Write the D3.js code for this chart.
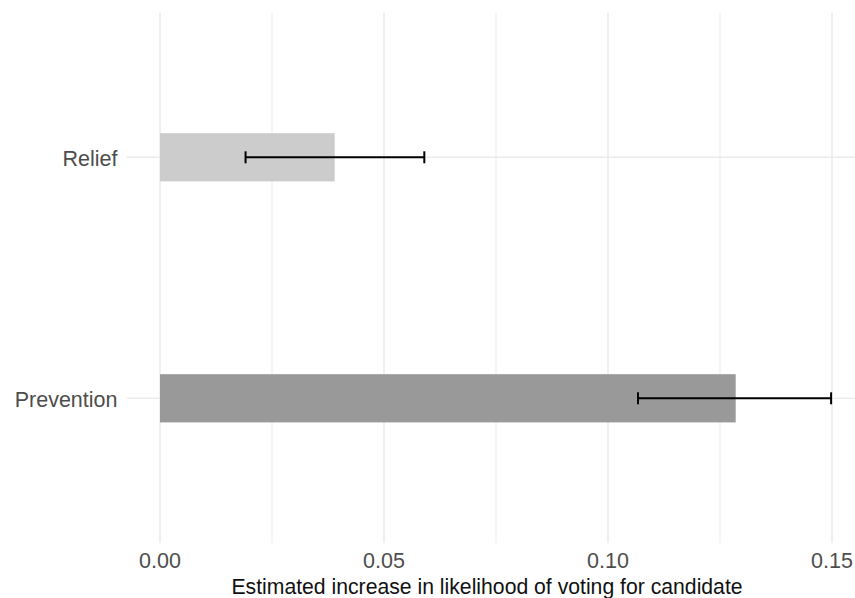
<!DOCTYPE html>
<html>
<head>
<meta charset="utf-8">
<script src="https://cdn.jsdelivr.net/npm/d3@7"></script>
<style>
  html, body { margin: 0; padding: 0; background: #fff; }
  svg { display: block; }
  text { font-family: "Liberation Sans", Arial, Helvetica, sans-serif; }
</style>
</head>
<body>
<svg id="chart" width="855" height="598"></svg>
<script>
// Treatment arms, estimates and 95% intervals
const categories = ["Relief", "Prevention"];
const estimates = [0.039, 0.1285];
const lowerCI = [0.0191, 0.1067];
const upperCI = [0.0590, 0.1498];
const barColors = ["#cccccc", "#999999"];
const majorTicks = [0, 0.05, 0.10, 0.15];
const minorTicks = [0.025, 0.075, 0.125];
const tickLabels = ["0.00", "0.05", "0.10", "0.15"];
const xTitle = "Estimated increase in likelihood of voting for candidate";

const W = 855, H = 598;
const svg = d3.select("#chart");

const x = d3.scaleLinear().domain([0, 0.15]).range([160, 832]);
const panelLeft = x(-0.0074), panelRight = W;
const panelTop = 13, panelBottom = 543;

const y = d3.scalePoint().domain(categories).range([157.3, 398.3]);
const step = y(categories[1]) - y(categories[0]);
const barH = step * 0.2;

const data = categories.map((c, i) => ({
  cat: c, est: estimates[i], lo: lowerCI[i], hi: upperCI[i], color: barColors[i]
}));

// grid
const grid = svg.append("g");
grid.selectAll("line.minor").data(minorTicks).join("line")
  .attr("x1", d => x(d)).attr("x2", d => x(d))
  .attr("y1", panelTop).attr("y2", panelBottom)
  .attr("stroke", "#efefef").attr("stroke-width", 1.2);
grid.selectAll("line.major").data(majorTicks).join("line")
  .attr("x1", d => x(d)).attr("x2", d => x(d))
  .attr("y1", panelTop).attr("y2", panelBottom)
  .attr("stroke", "#ebebeb").attr("stroke-width", 1.6);
grid.selectAll("line.hmajor").data(categories).join("line")
  .attr("x1", panelLeft).attr("x2", panelRight)
  .attr("y1", d => y(d)).attr("y2", d => y(d))
  .attr("stroke", "#ebebeb").attr("stroke-width", 1.6);

// bars
svg.append("g").selectAll("rect").data(data).join("rect")
  .attr("x", x(0))
  .attr("y", d => y(d.cat) - barH / 2)
  .attr("width", d => x(d.est) - x(0))
  .attr("height", barH)
  .attr("fill", d => d.color);

// error bars
const eb = svg.append("g").attr("stroke", "#000").attr("stroke-width", 2).attr("fill", "none");
const capH = 12;
data.forEach(d => {
  const cy = y(d.cat);
  eb.append("line").attr("x1", x(d.lo)).attr("x2", x(d.hi)).attr("y1", cy).attr("y2", cy);
  eb.append("line").attr("x1", x(d.lo)).attr("x2", x(d.lo)).attr("y1", cy - capH / 2).attr("y2", cy + capH / 2);
  eb.append("line").attr("x1", x(d.hi)).attr("x2", x(d.hi)).attr("y1", cy - capH / 2).attr("y2", cy + capH / 2);
});

// y axis labels
svg.append("g").selectAll("text").data(categories).join("text")
  .attr("x", 117.5)
  .attr("y", d => y(d) + 8.4)
  .attr("text-anchor", "end")
  .attr("font-size", 21.5)
  .attr("fill", "#4d4d4d")
  .text(d => d);

// x axis labels
svg.append("g").selectAll("text").data(majorTicks).join("text")
  .attr("x", d => x(d))
  .attr("y", 567.5)
  .attr("text-anchor", "middle")
  .attr("font-size", 21.5)
  .attr("fill", "#4d4d4d")
  .text((d, i) => tickLabels[i]);

// x axis title
svg.append("text")
  .attr("x", 487)
  .attr("y", 594)
  .attr("text-anchor", "middle")
  .attr("font-size", 21.2)
  .attr("fill", "#111")
  .text(xTitle);
</script>
</body>
</html>
